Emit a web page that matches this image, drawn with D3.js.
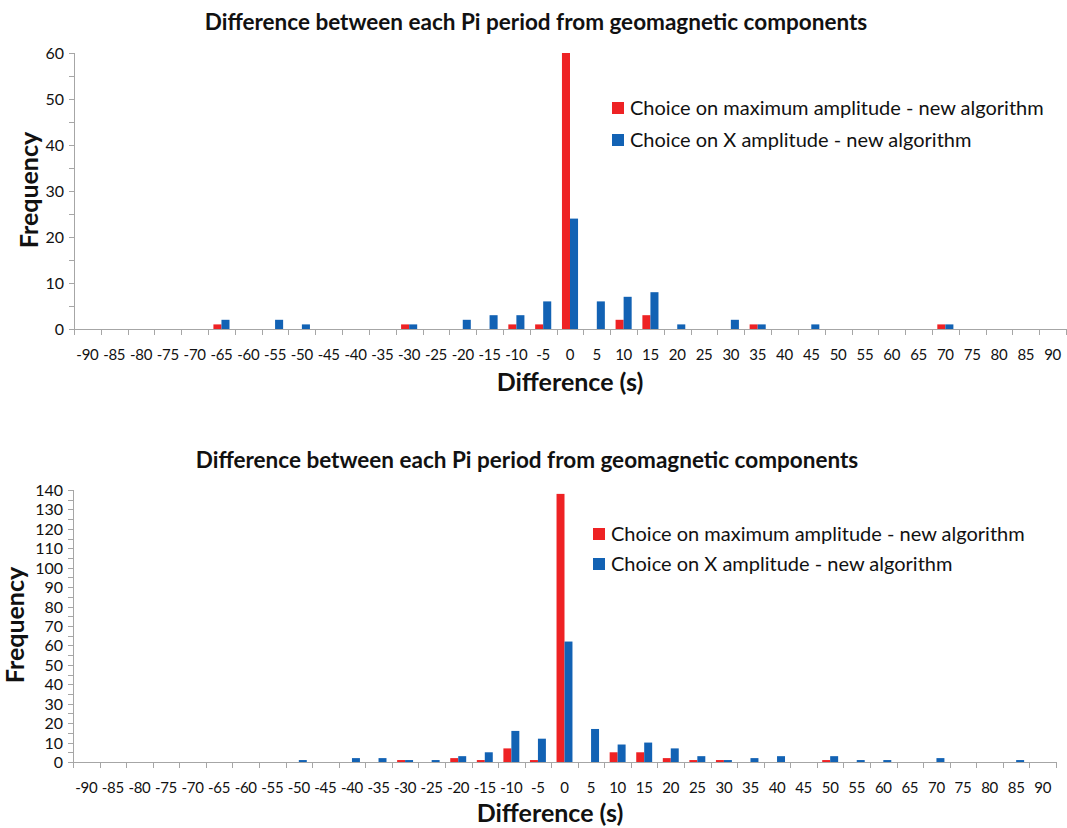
<!DOCTYPE html>
<html lang="en">
<head>
  <meta charset="UTF-8" />
  <title>Difference between each Pi period from geomagnetic components</title>
  <script src="https://d3js.org/d3.v7.min.js"></script>
  <style>
    body {
      margin: 0;
      padding: 0;
      background: #fff;
      font-family: Lato, "Open Sans", sans-serif;
    }
    .axis-line {
      stroke: #a6a6a6;
      stroke-width: 1;
      shape-rendering: crispEdges;
    }
    .tick-label {
      font-size: 16px;
      fill: #111;
    }
    .xtick-label {
      font-size: 15px;
      letter-spacing: -0.3px;
      fill: #111;
    }
    .title {
      font-size: 22.5px;
      font-weight: bold;
      fill: #111;
    }
    .axis-title {
      font-size: 25px;
      font-weight: bold;
      fill: #111;
    }
    .legend-text {
      font-size: 20px;
      fill: #111;
    }
  </style>
</head>
<body>
  <svg width="1067" height="828"></svg>

  <script>
    // categories: difference in seconds
    const categories = [-90, -85, -80, -75, -70, -65, -60, -55, -50, -45, -40, -35, -30, -25, -20, -15, -10, -5,
      0, 5, 10, 15, 20, 25, 30, 35, 40, 45, 50, 55, 60, 65, 70, 75, 80, 85, 90];

    const seriesNames = ["Choice on maximum amplitude - new algorithm", "Choice on X amplitude - new algorithm"];
    const colors = ["#ee2224", "#1262b4"];

    // top chart
    const topMaxAmp = [0, 0, 0, 0, 0, 1, 0, 0, 0, 0, 0, 0, 1, 0, 0, 0, 1, 1,
      60, 0, 2, 3, 0, 0, 0, 1, 0, 0, 0, 0, 0, 0, 1, 0, 0, 0, 0];
    const topXAmp = [0, 0, 0, 0, 0, 2, 0, 2, 1, 0, 0, 0, 1, 0, 2, 3, 3, 6,
      24, 6, 7, 8, 1, 0, 2, 1, 0, 1, 0, 0, 0, 0, 1, 0, 0, 0, 0];
    const topYTicks = [0, 10, 20, 30, 40, 50, 60];

    // bottom chart
    const botMaxAmp = [0, 0, 0, 0, 0, 0, 0, 0, 0, 0, 0, 0, 1, 0, 2, 1, 7, 1,
      138, 0, 5, 5, 2, 1, 1, 0, 0, 0, 1, 0, 0, 0, 0, 0, 0, 0, 0];
    const botXAmp = [0, 0, 0, 0, 0, 0, 0, 0, 1, 0, 2, 2, 1, 1, 3, 5, 16, 12,
      62, 17, 9, 10, 7, 3, 1, 2, 3, 0, 3, 1, 1, 0, 2, 0, 0, 1, 0];
    const botYTicks = [0, 10, 20, 30, 40, 50, 60, 70, 80, 90, 100, 110, 120, 130, 140];

    const svg = d3.select("svg");

    function drawChart(opt) {
      const g = svg.append("g");
      const x = d3.scaleBand().domain(categories).range([opt.left, opt.right]).paddingInner(0).paddingOuter(0);
      const yMax = opt.yTicks[opt.yTicks.length - 1];
      const y = d3.scaleLinear().domain([0, yMax]).range([opt.bottom, opt.top]);
      const groupW = x.bandwidth() * 0.6;
      const inner = d3.scaleBand().domain([0, 1]).range([0, groupW]);

      // title
      g.append("text")
        .attr("class", "title")
        .attr("x", opt.titleX)
        .attr("y", opt.titleY)
        .attr("text-anchor", "middle")
        .text("Difference between each Pi period from geomagnetic components");

      // bars
      const rows = categories.map((c, i) => ({ c, v: [opt.s1[i], opt.s2[i]] }));
      rows.forEach((r) => {
        r.v.forEach((v, k) => {
          if (v <= 0) return;
          g.append("rect")
            .attr("x", x(r.c) + (x.bandwidth() - groupW) / 2 + inner(k))
            .attr("y", y(v))
            .attr("width", inner.bandwidth())
            .attr("height", y(0) - y(v))
            .attr("fill", colors[k]);
        });
      });

      // y axis
      g.append("line").attr("class", "axis-line")
        .attr("x1", opt.left + 0.5).attr("x2", opt.left + 0.5)
        .attr("y1", opt.top).attr("y2", opt.bottom);
      const minor = d3.range(0, yMax + 1, 5);
      g.selectAll(".ytick").data(minor).enter().append("line")
        .attr("class", "axis-line")
        .attr("x1", opt.left - 5).attr("x2", opt.left)
        .attr("y1", (d) => Math.round(y(d)) + 0.5)
        .attr("y2", (d) => Math.round(y(d)) + 0.5);
      g.selectAll(".ylab").data(opt.yTicks).enter().append("text")
        .attr("class", "tick-label")
        .attr("x", opt.left - 10)
        .attr("y", (d) => y(d) + 6)
        .attr("text-anchor", "end")
        .text((d) => d);

      // x axis
      g.append("line").attr("class", "axis-line")
        .attr("x1", opt.left).attr("x2", opt.right)
        .attr("y1", opt.bottom + 0.5).attr("y2", opt.bottom + 0.5);
      const bounds = categories.map((c) => x(c)).concat([opt.right]);
      g.selectAll(".xtick").data(bounds).enter().append("line")
        .attr("class", "axis-line")
        .attr("x1", (d) => Math.round(d) + 0.5).attr("x2", (d) => Math.round(d) + 0.5)
        .attr("y1", opt.bottom).attr("y2", opt.bottom + 6);
      g.selectAll(".xlab").data(categories).enter().append("text")
        .attr("class", "xtick-label")
        .attr("x", (d) => x(d) + x.bandwidth() / 2)
        .attr("y", opt.bottom + 31)
        .attr("text-anchor", "middle")
        .text((d) => d);

      // axis titles
      g.append("text")
        .attr("class", "axis-title")
        .attr("x", opt.xTitleX)
        .attr("y", opt.xTitleY)
        .attr("text-anchor", "middle")
        .text("Difference (s)");
      g.append("text")
        .attr("class", "axis-title")
        .attr("transform", `translate(${opt.yTitleX},${opt.yTitleY}) rotate(-90)`)
        .attr("text-anchor", "middle")
        .text("Frequency");

      // legend
      seriesNames.forEach((name, k) => {
        g.append("rect")
          .attr("x", opt.legX)
          .attr("y", opt.legY + k * opt.legStep - 6)
          .attr("width", 12)
          .attr("height", 12)
          .attr("fill", colors[k]);
        g.append("text")
          .attr("class", "legend-text")
          .attr("x", opt.legX + 18)
          .attr("y", opt.legY + k * opt.legStep + 7)
          .text(name);
      });
    }

    drawChart({
      s1: topMaxAmp, s2: topXAmp, yTicks: topYTicks,
      left: 74, right: 1066, top: 53, bottom: 329,
      titleX: 536, titleY: 30,
      xTitleX: 570, xTitleY: 391,
      yTitleX: 38, yTitleY: 190,
      legX: 612, legY: 108, legStep: 32
    });

    drawChart({
      s1: botMaxAmp, s2: botXAmp, yTicks: botYTicks,
      left: 73, right: 1056, top: 490, bottom: 762,
      titleX: 527, titleY: 468,
      xTitleX: 550, xTitleY: 822,
      yTitleX: 24, yTitleY: 625,
      legX: 593, legY: 534, legStep: 30
    });
  </script>
</body>
</html>
